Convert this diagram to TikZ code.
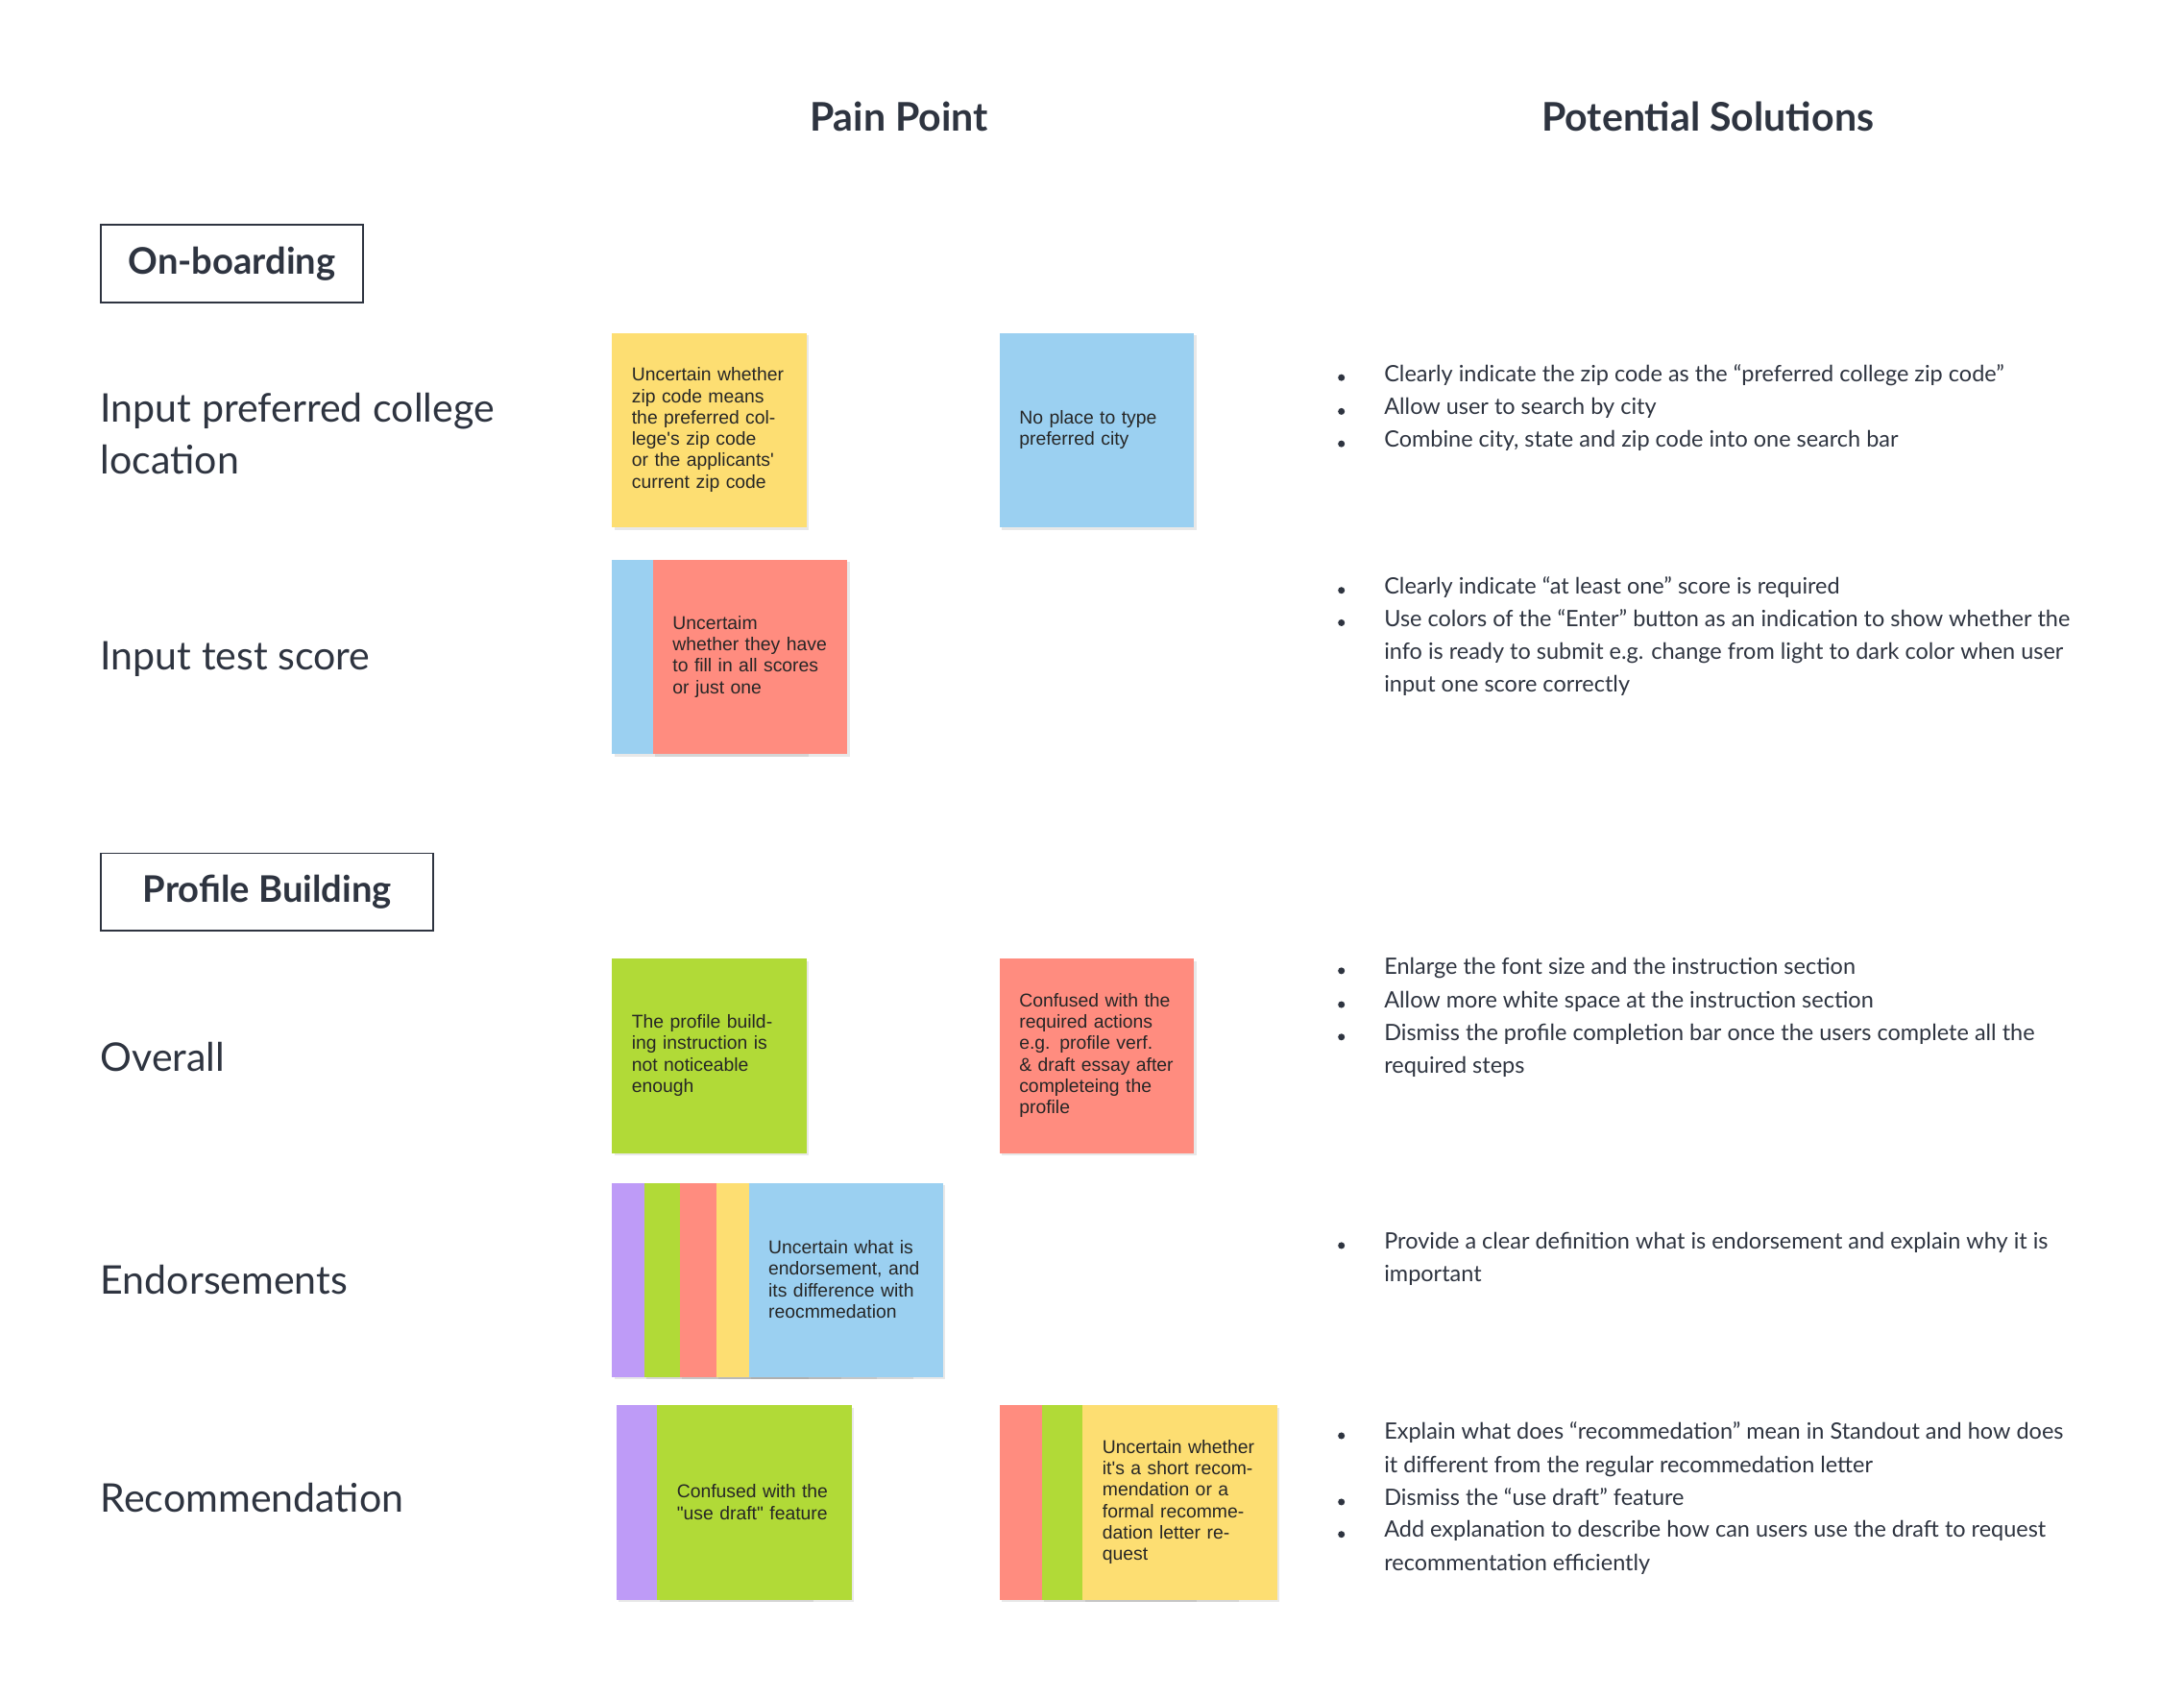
\documentclass[tikz,border=0pt]{standalone}
\usepackage{fontspec}
\setmainfont{Lato}
\newfontfamily\stickyfont{Liberation Sans}
\usetikzlibrary{shadows}
\definecolor{ink}{HTML}{2E3440}
\definecolor{sy}{HTML}{FDDE72}
\definecolor{sb}{HTML}{9BD0F1}
\definecolor{sr}{HTML}{FF8C7F}
\definecolor{sg}{HTML}{B1DA37}
\definecolor{sp}{HTML}{BE9BF7}
\tikzset{
 stick/.style={fill=#1, anchor=north west, minimum width=69pt, minimum height=69pt, inner sep=0pt,
   drop shadow={opacity=0.18, shadow xshift=0.8pt, shadow yshift=-0.8pt}},
 sticktext/.style={anchor=west, text width=55pt, align=left, inner sep=0pt, font=\stickyfont\fontsize{6.6}{7.6}\selectfont, text=black!85},
 head/.style={font=\bfseries\fontsize{14}{16}\selectfont, text=ink},
 sect/.style={draw=ink, line width=0.6pt, anchor=north west, font=\bfseries\fontsize{13}{15}\selectfont, text=ink, inner sep=0pt},
 lab/.style={anchor=west, font=\fontsize{14}{18.5}\selectfont, text=ink, align=left, inner sep=0pt},
 bul/.style={anchor=north west, font=\fontsize{8}{11.7}\selectfont, text=ink, align=left, inner sep=0pt},
 dot/.style={circle, fill=ink, inner sep=0pt, minimum size=2.4pt}
}
\begin{document}
\begin{tikzpicture}[x=0.5pt,y=-0.5pt]
\useasboundingbox (0,0) rectangle (1550,1204);
\node[head] (pp) at (638,83) {Pain Point};
\node[head] (ps) at (1212,83) {Potential Solutions};
\node[sect, minimum width=93pt, minimum height=27.5pt] (ob) at (71,159) {On-boarding};
\node[sect, minimum width=118pt, minimum height=27.5pt] (pb) at (71,605) {Profile Building};

\node[lab] (l1) at (71,308) {Input preferred college\\location};
\node[lab] (l2) at (71,468) {Input test score};
\node[lab] (l3) at (71,750) {Overall};
\node[lab] (l4) at (71,908) {Endorsements};
\node[lab] (l5) at (71,1063) {Recommendation};

% row 1
\node[stick=sy] (s1) at (434,236) {};
\node[sticktext] at (448,305) {Uncertain whether zip code means the preferred college's zip code or the applicants' current zip code};
\node[stick=sb] (s2) at (709,236) {};
\node[sticktext] at (723,305) {No place to type preferred city};
% row 2
\node[stick=sb] (s3) at (434,397) {};
\node[stick=sr] (s4) at (463,397) {};
\node[sticktext] at (477,466) {Uncertaim whether they have to fill in all scores or just one};
% row 3
\node[stick=sg] (s5) at (434,680) {};
\node[sticktext] at (448,749) {The profile building instruction is not noticeable enough};
\node[stick=sr] (s6) at (709,680) {};
\node[sticktext] at (723,749) {Confused with the required actions e.g. profile verf. \& draft essay after completeing the profile};
% row 4
\node[stick=sp] (s7) at (434,839) {};
\node[stick=sg] (s8) at (457,839) {};
\node[stick=sr] (s9) at (482,839) {};
\node[stick=sy] (s10) at (508,839) {};
\node[stick=sb] (s11) at (531,839) {};
\node[sticktext] at (545,908) {Uncertain what is endorsement, and its difference with reocmmedation};
% row 5
\node[stick=sp] (s12) at (437,997) {};
\node[stick=sg] (s13) at (466,997) {};
\node[sticktext] at (480,1066) {Confused with the "use draft" feature};
\node[stick=sr] (s14) at (709,997) {};
\node[stick=sg] (s15) at (739,997) {};
\node[stick=sy] (s16) at (768,997) {};
\node[sticktext] at (782,1066) {Uncertain whether it's a short recommendation or a formal recommedation letter request};

% bullets
\foreach \y/\t [count=\i] in {
 258/{Clearly indicate the zip code as the “preferred college zip code”},
 282/{Allow user to search by city},
 305/{Combine city, state and zip code into one search bar},
 409/{Clearly indicate “at least one” score is required},
 432/{Use colors of the “Enter” button as an indication to show whether the\\info is ready to submit e.g. change from light to dark color when user\\input one score correctly},
 679/{Enlarge the font size and the instruction section},
 703/{Allow more white space at the instruction section},
 726/{Dismiss the profile completion bar once the users complete all the\\required steps},
 874/{Provide a clear definition what is endorsement and explain why it is\\important},
 1009/{Explain what does “recommedation” mean in Standout and how does\\it different from the regular recommedation letter},
 1056/{Dismiss the “use draft” feature},
 1079/{Add explanation to describe how can users use the draft to request\\recommentation efficiently}}
{
 \node[dot] (d\i) at (952,\y+10) {};
 \node[bul] (b\i) at (982,\y) {\t};
}
\end{tikzpicture}
\end{document}
